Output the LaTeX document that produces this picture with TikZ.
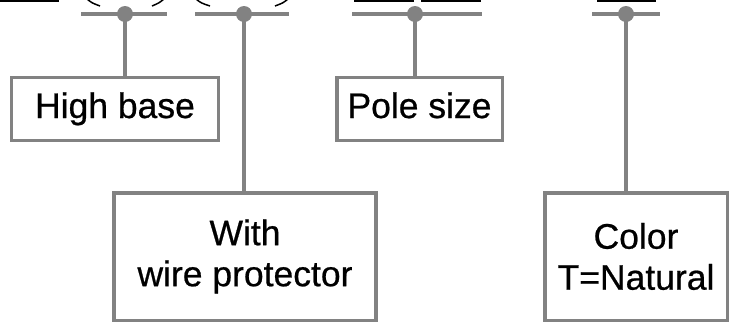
\documentclass[tikz,border=0pt]{standalone}
\usepackage{fontspec}
\setmainfont{Liberation Sans}
\newfontfamily\lblfont[FakeBold=0.6]{Liberation Sans}
\definecolor{lg}{RGB}{130,130,130}
\begin{document}
\begin{tikzpicture}[x=1pt,y=-1pt,
  conn/.style={draw=lg, line width=3.5pt},
  barline/.style={draw=lg, line width=4pt},
  junction/.style={circle, fill=lg, minimum size=16pt, inner sep=0pt},
  lbl/.style={draw=lg, line width=3.5pt, align=center, inner sep=0pt,
    font=\lblfont\fontsize{35.5}{41}\selectfont},
  one/.style={text height=25pt, text depth=7pt},
  part/.style={draw=black, line width=1.5pt},
]
\useasboundingbox (0,0) rectangle (731,325);
\clip (0,0) rectangle (731,325);

% partial parts at the top edge
\draw[part] (0,-30) rectangle (58,1);
\draw[part] (355,-30) rectangle (413,1);
\draw[part] (422,-30) rectangle (480,1);
\draw[part] (598,-30) rectangle (655,1);
\draw[part] (87,-1) .. controls (92,3) .. (100,6);
\draw[part] (164,-1) .. controls (159,3) .. (152,6);
\draw[part] (196,-1) .. controls (201,3) .. (210,6);
\draw[part] (288,-1) .. controls (283,3) .. (275,6);

% bars
\draw[barline] (81,14) -- (167,14);
\draw[barline] (195,14) -- (289,14);
\draw[barline] (352,14) -- (482,14);
\draw[barline] (592,14) -- (660,14);

% junctions
\node[junction] (j1) at (125,14) {};
\node[junction] (j2) at (244,14) {};
\node[junction] (j3) at (415,14) {};
\node[junction] (j4) at (626,14) {};

% labels
\node[lbl, one, minimum width=207pt, minimum height=63pt] (hb) at (115,109) {High base};
\node[lbl, one, minimum width=165.5pt, minimum height=63pt] (ps) at (419.5,109) {Pole size};
\node[lbl, minimum width=262pt, minimum height=127.5pt] (wp) at (245,256.5) {With\\wire protector};
\node[lbl, minimum width=182.5pt, minimum height=127.5pt] (co) at (636,256.5) {Color\\T=Natural};

% connectors
\draw[conn] (j1.center) -- (j1.center |- hb.north);
\draw[conn] (j2.center) -- (j2.center |- wp.north);
\draw[conn] (j3.center) -- (j3.center |- ps.north);
\draw[conn] (j4.center) -- (j4.center |- co.north);
\end{tikzpicture}
\end{document}
